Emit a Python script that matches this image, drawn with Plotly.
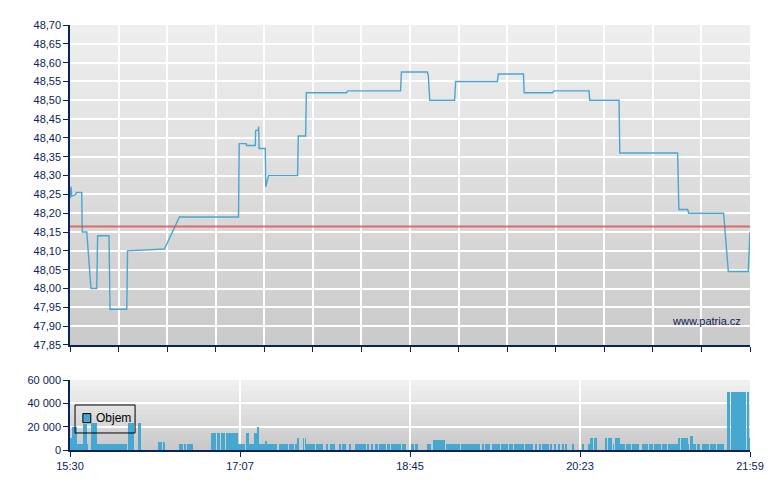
import plotly.graph_objects as go

# ---------------- data ----------------
# price: minutes after 15:30, price (CZK)
price_t = [0.0, 0.6, 1.0, 3.4, 3.5, 6.7, 7.0, 9.6, 12.0, 15.3, 15.8, 22.3, 22.9, 32.5, 32.9,
           54.0, 62.6, 96.4, 96.8, 100.8, 101.0, 106.0, 106.2, 107.7, 107.9, 108.2, 111.7,
           112.0, 113.6, 130.2, 130.6, 134.8, 135.2, 158.1, 159.0, 189.1, 189.6, 204.4,
           205.0, 205.8, 220.0, 220.6, 244.5, 245.0, 259.4, 259.8, 276.0, 276.7, 296.9,
           297.3, 314.1, 314.5, 347.6, 348.3, 353.3, 354.0, 373.9, 376.6, 388.0, 389.0]
price_v = [48.24, 48.27, 48.245, 48.25, 48.255, 48.255, 48.15, 48.15, 48.00, 48.00, 48.14,
           48.14, 47.945, 47.945, 48.10, 48.105, 48.19, 48.19, 48.385, 48.385, 48.38, 48.38,
           48.42, 48.42, 48.43, 48.372, 48.372, 48.27, 48.30, 48.30, 48.405, 48.405, 48.52,
           48.52, 48.525, 48.525, 48.575, 48.575, 48.565, 48.50, 48.50, 48.55, 48.55, 48.57,
           48.57, 48.52, 48.52, 48.525, 48.525, 48.50, 48.50, 48.36, 48.36, 48.21, 48.21,
           48.20, 48.20, 48.045, 48.045, 48.15]
prev_close = 48.165

# volume bars: start / end (minutes after 15:30), volume
vol_start = [0.0, 1.0, 3.8, 7.3, 9.7, 12.0, 15.3, 33.4, 39.0, 50.2, 53.7, 62.4, 65.3, 67.0,
             80.8, 84.0, 86.3, 89.2, 96.2, 100.7, 102.6, 105.8, 107.5, 108.1, 109.2, 112.1,
             112.5, 116.4, 119.3, 125.4, 128.9, 130.4, 133.3, 134.5, 135.0, 140.9, 142.7,
             146.7, 148.8, 150.1, 154.1, 155.8, 159.8, 163.3, 166.1, 170.3, 172.3, 174.6,
             176.5, 179.1, 181.5, 183.7, 184.9, 186.8, 187.9, 190.2, 191.4, 195.2, 197.6,
             204.0, 207.8, 208.9, 215.2, 218.1, 223.4, 235.5, 237.2, 241.2, 244.5, 246.4,
             251.1, 254.0, 260.1, 263.9, 265.8, 268.7, 269.8, 273.3, 274.8, 277.3, 279.4,
             281.9, 283.6, 287.0, 293.3, 296.8, 297.3, 299.6, 306.5, 307.5, 310.7, 311.6,
             313.9, 314.5, 316.4, 318.1, 319.3, 320.2, 321.3, 327.3, 328.4, 331.1, 334.0,
             337.5, 338.6, 342.1, 348.3, 349.3, 353.5, 354.6, 356.2, 358.8, 361.5, 366.4,
             370.1, 376.4, 378.1, 387.7, 388.8]
vol_end = [1.0, 3.8, 7.3, 9.7, 10.3, 15.3, 32.5, 36.7, 40.5, 52.9, 54.4, 64.9, 66.3, 70.3,
           83.5, 85.8, 88.4, 96.2, 100.3, 102.6, 105.8, 106.7, 108.1, 109.0, 112.1, 112.5,
           115.9, 118.5, 124.6, 128.3, 129.6, 131.2, 133.8, 135.0, 140.4, 142.3, 145.0,
           147.4, 149.5, 151.8, 155.1, 158.1, 160.4, 165.7, 169.6, 171.1, 173.4, 176.1,
           178.8, 181.0, 183.3, 184.5, 186.4, 187.5, 189.1, 191.0, 192.1, 196.7, 199.2,
           206.6, 208.5, 214.8, 217.7, 222.9, 234.3, 236.8, 240.0, 244.1, 246.0, 250.5,
           253.6, 259.5, 263.5, 264.8, 267.1, 269.3, 272.7, 274.2, 275.8, 278.0, 280.1,
           282.6, 284.2, 288.2, 293.9, 297.3, 298.9, 301.2, 307.0, 310.1, 311.2, 313.4,
           314.5, 316.4, 317.0, 318.7, 319.8, 320.9, 325.4, 327.8, 330.5, 333.4, 337.1,
           338.2, 341.5, 347.8, 348.9, 353.5, 354.3, 356.2, 358.2, 360.4, 365.3, 369.5,
           374.1, 377.4, 386.7, 388.2, 389.0]
vol_value = [10000, 20000, 5000, 22000, 5000, 23000, 5000, 23000, 23000, 7000, 7000, 5000,
             5000, 5000, 15000, 15000, 15000, 15000, 5000, 15000, 5000, 15000, 20000, 5000,
             5000, 8000, 5000, 5000, 5000, 5000, 5000, 10000, 10000, 10000, 5000, 5000, 5000,
             5000, 5000, 5000, 5000, 5000, 5000, 5000, 5000, 5000, 5000, 5000, 5000, 5000,
             5000, 5000, 5000, 5000, 5000, 5000, 5000, 5000, 5000, 5000, 9000, 9000, 5000,
             5000, 5000, 5000, 5000, 5000, 5000, 5000, 5000, 5000, 5000, 5000, 5000, 5000,
             5000, 5000, 5000, 5000, 5000, 5000, 5000, 5000, 5000, 5000, 10000, 10000, 10000,
             10000, 5000, 10000, 10000, 5000, 5000, 5000, 5000, 5000, 5000, 5000, 5000, 5000,
             5000, 5000, 5000, 5000, 10000, 10000, 5000, 12000, 5000, 5000, 5000, 5000, 5000,
             50000, 50000, 50000, 10000]

session_len = 389  # 15:30 -> 21:59
time_tick_vals = [0, 97.25, 194.5, 291.75, 389]
time_tick_text = ["15:30", "17:07", "18:45", "20:23", "21:59"]
price_range = [47.85, 48.70]
vol_range = [0, 60000]
legend_label = "Objem"
watermark = "www.patria.cz"

# ---------------- styling ----------------
NAVY = "#0b2356"
LINE = "#4aa6d0"
BAR = "#46a7d0"
FONT = "Liberation Sans, Arial, sans-serif"

fig = go.Figure()

fig.add_trace(go.Scatter(x=price_t, y=price_v, mode="lines",
                         line=dict(color=LINE, width=1.4), showlegend=False,
                         xaxis="x", yaxis="y", hoverinfo="skip"))
fig.add_trace(go.Scatter(x=[0, session_len], y=[prev_close, prev_close], mode="lines",
                         line=dict(color="rgba(220,70,70,0.75)", width=2), showlegend=False,
                         xaxis="x", yaxis="y", hoverinfo="skip"))

widths = [e - s for s, e in zip(vol_start, vol_end)]
fig.add_trace(go.Bar(x=vol_start, y=vol_value, width=widths, offset=0,
                     marker=dict(color=BAR, line=dict(width=0)), showlegend=False,
                     xaxis="x2", yaxis="y2", hoverinfo="skip"))

shapes = []
def gradient(xref, yref, top, bottom, n=30):
    for i in range(n):
        f = (i + 0.5) / n
        c = [round(bottom[k] + (top[k] - bottom[k]) * f) for k in range(3)]
        shapes.append(dict(type="rect", xref=xref, yref=yref, x0=0, x1=1,
                           y0=i / n, y1=min(1.0, (i + 1.6) / n), layer="below",
                           fillcolor=f"rgb({c[0]},{c[1]},{c[2]})", line=dict(width=0)))

gradient("x domain", "y domain", (239, 239, 239), (202, 202, 202))
gradient("x2 domain", "y2 domain", (241, 241, 241), (200, 200, 200), n=14)

# legend box in volume panel
shapes.append(dict(type="rect", xref="x2 domain", yref="y2 domain", x0=0.0074, x1=0.0957,
                   y0=0.243, y1=0.643, line=dict(color="black", width=1), fillcolor="rgba(0,0,0,0)"))
shapes.append(dict(type="rect", xref="x2 domain", yref="y2 domain", x0=0.0189, x1=0.0306,
                   y0=0.39, y1=0.52, line=dict(color="black", width=1), fillcolor=BAR))

annotations = [
    dict(text=legend_label, xref="x2 domain", yref="y2 domain", x=0.036, y=0.455,
         xanchor="left", yanchor="middle", showarrow=False,
         font=dict(family=FONT, size=12, color="black")),
    dict(text=watermark, xref="x domain", yref="y domain", x=0.99, y=0.075,
         xanchor="right", yanchor="middle", showarrow=False,
         font=dict(family=FONT, size=11, color=NAVY)),
]

axis_common = dict(showline=True, linecolor=NAVY, linewidth=1.5, ticks="outside",
                   tickcolor=NAVY, ticklen=5, tickwidth=1, gridcolor="white", gridwidth=1.5,
                   zeroline=False, tickfont=dict(family=FONT, size=11, color=NAVY))

fig.update_layout(
    width=780, height=490,
    margin=dict(l=70, r=30, t=25, b=40),
    paper_bgcolor="white", plot_bgcolor="rgba(0,0,0,0)",
    separators=", ",
    showlegend=False,
    shapes=shapes, annotations=annotations,
    bargap=0,
    xaxis=dict(axis_common, domain=[0, 1], range=[0, session_len], tick0=0,
               dtick=session_len / 14, showticklabels=False, anchor="y"),
    yaxis=dict(axis_common, domain=[0.2471, 1], range=price_range, dtick=0.05,
               tickformat=".2f", anchor="x"),
    xaxis2=dict(axis_common, domain=[0, 1], range=[0, session_len], tickmode="array",
                tickvals=time_tick_vals, ticktext=time_tick_text, anchor="y2"),
    yaxis2=dict(axis_common, domain=[0, 0.1647], range=vol_range, dtick=20000,
                tickformat=",.0f", anchor="x2"),
)

# remove the page's default body margin so the figure sits at the window's top-left corner
fig.write_html("out.html", config={"displayModeBar": False},
               post_script="document.body.style.margin='0';document.body.style.overflow='hidden';")
